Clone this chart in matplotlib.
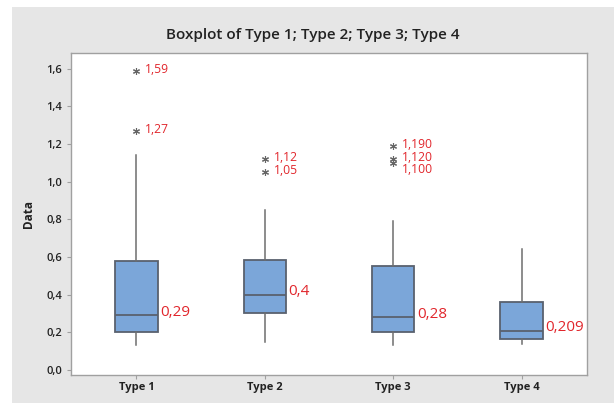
import matplotlib.pyplot as plt
from matplotlib.patches import Rectangle

plt.rcParams['font.family'] = ['Open Sans', 'DejaVu Sans']

# dane
types = ['Type 1', 'Type 2', 'Type 3', 'Type 4']
q1 = [0.20, 0.30, 0.20, 0.165]
med = [0.29, 0.40, 0.28, 0.209]
q3 = [0.58, 0.585, 0.55, 0.36]
whislo = [0.13, 0.15, 0.13, 0.14]
whishi = [1.14, 0.85, 0.79, 0.64]
outliers = [[1.59, 1.27], [1.12, 1.05], [1.19, 1.12, 1.10], []]
med_labels = ['0,29', '0,4', '0,28', '0,209']
out_labels = [['1,59', '1,27'], ['1,12', '1,05'], ['1,190', '1,120', '1,100'], []]
yticks = [0.0, 0.2, 0.4, 0.6, 0.8, 1.0, 1.2, 1.4, 1.6]

red = '#e1262c'
gray_bg = '#e6e6e6'

fig = plt.figure(figsize=(6.14, 4.03), dpi=100, facecolor='white')
fig.patches.append(Rectangle((12 / 614, 0), 1, 1 - 7 / 403, transform=fig.transFigure,
                             facecolor=gray_bg, edgecolor='none', zorder=-10))
ax = fig.add_axes([71 / 614, 1 - 375 / 403, 516 / 614, 322 / 403])

stats = []
for i in range(len(types)):
    stats.append({'label': types[i], 'q1': q1[i], 'med': med[i], 'q3': q3[i],
                  'whislo': whislo[i], 'whishi': whishi[i], 'fliers': outliers[i]})

pos = list(range(1, len(types) + 1))
ax.bxp(stats, positions=pos, widths=0.33, patch_artist=True, showcaps=False,
       boxprops=dict(facecolor='#7ba6d9', edgecolor='#59616e', linewidth=1.3),
       medianprops=dict(color='#59616e', linewidth=1.3),
       whiskerprops=dict(color='#6e6e6e', linewidth=1.1),
       flierprops=dict(marker=(6, 2, 0), markersize=5, markeredgecolor='#666666',
                       markerfacecolor='#666666', markeredgewidth=0.8, linestyle='none'))

# etykiety mediany i obserwacji odstających
for i, p in enumerate(pos):
    ax.text(p + 0.185, med[i] + 0.015, med_labels[i], color=red, fontsize=11,
            ha='left', va='center')
    prev = 10
    for v, lab in zip(outliers[i], out_labels[i]):
        y = min(v, prev - 0.065)
        prev = y
        ax.text(p + 0.07, y + 0.008, lab, color=red, fontsize=8.7, ha='left', va='center')

ax.set_xlim(0.49, 4.51)
ax.set_ylim(-0.027, 1.684)
ax.set_xticks(pos)
ax.set_xticklabels(types, fontsize=8, fontweight='bold', color='#222222')
ax.set_yticks(yticks)
ax.set_yticklabels([f'{t:.1f}'.replace('.', ',') for t in yticks], fontsize=8,
                   fontweight='semibold', color='#222222')
ax.tick_params(length=3, color='#a0a0a0', width=0.8)
ax.tick_params(axis='x', pad=2)
for s in ax.spines.values():
    s.set_color('#a0a0a0')
    s.set_linewidth(1.0)

ax.set_ylabel('Data', fontsize=8.5, fontweight='bold', color='#222222', labelpad=8)
fig.text(313 / 614, 1 - 35 / 403, 'Boxplot of Type 1; Type 2; Type 3; Type 4',
         ha='center', va='center', fontsize=11, fontweight='semibold', color='#222222')

fig.savefig('out.png', dpi=100)
